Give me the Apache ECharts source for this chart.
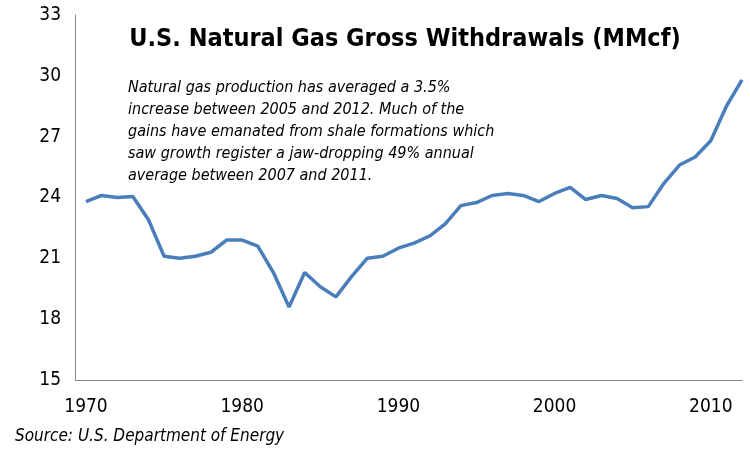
<!DOCTYPE html>
<html><head><meta charset="utf-8">
<script src="https://cdn.jsdelivr.net/npm/echarts@6/dist/echarts.min.js"></script>
<style>body{margin:0;background:#fff}#c{width:750px;height:452px}</style>
</head><body><div id="c"></div>
<script>
var years = [];
for (var y = 1970; y <= 2012; y++) { years.push(y); }
var withdrawals = [23.8, 24.1, 24.0, 24.05, 22.9, 21.1, 21.0, 21.1, 21.3, 21.9,
  21.9, 21.6, 20.3, 18.6, 20.3, 19.6, 19.1, 20.1, 21.0, 21.1,
  21.5, 21.75, 22.1, 22.7, 23.6, 23.75, 24.1, 24.2, 24.1, 23.8,
  24.2, 24.5, 23.9, 24.1, 23.95, 23.5, 23.55, 24.7, 25.6, 26.0,
  26.8, 28.5, 29.8];
var note = 'Natural gas production has averaged a 3.5%\nincrease between 2005 and 2012. Much of the\ngains have emanated from shale formations which\nsaw growth register a jaw-dropping 49% annual\naverage between 2007 and 2011.';

var fontName = '"Liberation Sans Narrow", "DejaVu Sans Condensed", sans-serif';
var chart = echarts.init(document.getElementById('c'));
var seriesData = [];
for (var i = 0; i < years.length; i++) { seriesData.push([years[i], withdrawals[i]]); }

chart.setOption({
  animation: false,
  title: {text: 'U.S. Natural Gas Gross Withdrawals (MMcf)', left: 400, top: 22, textAlign: 'center',
    textStyle: {fontFamily: fontName, fontSize: 25, fontWeight: 'bold', color: '#000'}},
  graphic: [
    {type: 'text', left: 128, top: 77, style: {text: note, fontFamily: fontName, fontStyle: 'italic', fontSize: 16, lineHeight: 22, fill: '#000'}},
    {type: 'text', left: 15, top: 428, style: {text: 'Source: U.S. Department of Energy', fontFamily: fontName, fontStyle: 'italic', fontSize: 17, fill: '#000'}},
    {type: 'line', shape: {x1: 75, y1: 380.5, x2: 86, y2: 380.5}, style: {stroke: '#888', lineWidth: 1}}
  ],
  grid: {left: 86, right: 8, top: 15, bottom: 72},
  xAxis: {type: 'value', min: 1970, max: 2012, interval: 10,
    axisLine: {lineStyle: {color: '#888'}}, axisTick: {show: false}, splitLine: {show: false},
    axisLabel: {fontFamily: fontName, fontSize: 19, color: '#000', margin: 18,
      formatter: function (v) { return v % 10 === 0 && v <= 2010 ? String(v) : ''; }}},
  yAxis: {type: 'value', min: 15, max: 33, interval: 3, offset: 11,
    axisLine: {show: true, lineStyle: {color: '#888'}}, axisTick: {show: false}, splitLine: {show: false},
    axisLabel: {fontFamily: fontName, fontSize: 19, color: '#000', margin: 14}},
  series: [{type: 'line', data: seriesData, showSymbol: false, lineStyle: {color: '#4a7ebb', width: 3.5}}]
});
</script></body></html>
